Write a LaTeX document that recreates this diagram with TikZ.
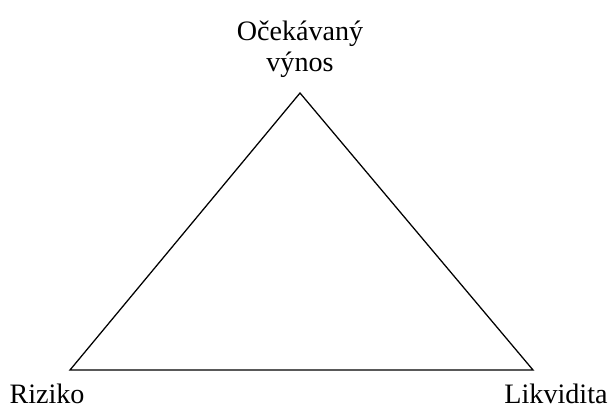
\documentclass[tikz,border=0pt]{standalone}
\usepackage{fontspec}
\setmainfont{Liberation Serif}
\usetikzlibrary{positioning}

\begin{document}
\begin{tikzpicture}[x=0.025cm,y=-0.025cm,
  corner/.style={inner sep=0pt,font=\fontsize{20}{22}\selectfont},
  side/.style={line width=0.9pt,line join=miter}]

\useasboundingbox (0,0) rectangle (610,408);

\coordinate (top) at (300,93);
\coordinate (left) at (70,370);
\coordinate (right) at (533,370);

\node[corner,align=center,anchor=south] (vynos) at (300,78) {Očekávaný\\výnos};
\node[corner,anchor=base] (riziko) at (47,403) {Riziko};
\node[corner,anchor=base] (likvidita) at (556,403) {Likvidita};

\draw[side] (top)--(right)--(left)--cycle;
\end{tikzpicture}
\end{document}
